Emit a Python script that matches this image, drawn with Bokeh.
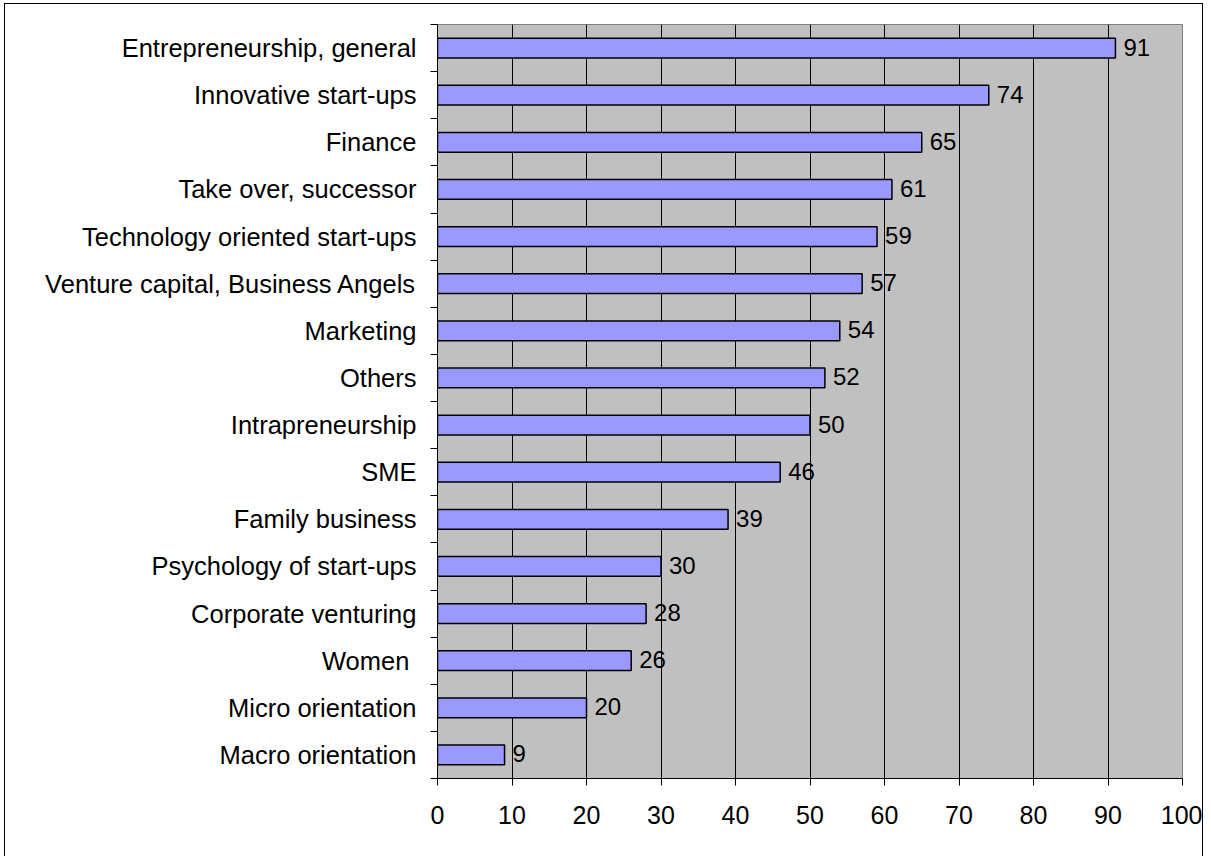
from bokeh.plotting import figure
from bokeh.models import ColumnDataSource, FixedTicker, LinearAxis, Range1d
from bokeh.core.properties import value
from bokeh.embed import file_html
from bokeh.resources import INLINE

categories = [
    "Entrepreneurship, general",
    "Innovative start-ups",
    "Finance",
    "Take over, successor",
    "Technology oriented start-ups",
    "Venture capital, Business Angels",
    "Marketing",
    "Others",
    "Intrapreneurship",
    "SME",
    "Family business",
    "Psychology of start-ups",
    "Corporate venturing",
    "Women ",
    "Micro orientation",
    "Macro orientation",
]
values = [91, 74, 65, 61, 59, 57, 54, 52, 50, 46, 39, 30, 28, 26, 20, 9]
x_ticks = [0, 10, 20, 30, 40, 50, 60, 70, 80, 90, 100]

n = len(categories)
ypos = [n - i for i in range(n)]  # top category at the top
src = ColumnDataSource(dict(cat=categories, val=values, y=ypos,
                            lab=[str(v) for v in values]))

FONT = "Liberation Sans"
FS_CAT = "25.5px"
FS_TICK = "25px"
FS_VAL = "24px"

p = figure(width=1197, height=852, output_backend="svg", toolbar_location=None,
           x_range=Range1d(0, 100), y_range=Range1d(0.5, n + 0.5),
           min_border_left=432, min_border_right=20, min_border_top=20,
           min_border_bottom=78, frame_width=745, frame_height=754)
p.styles = {"margin-left": "4px", "margin-top": "3px",
            "border-left": "1px solid black", "border-top": "1px solid black",
            "border-right": "1px solid black"}
p.background_fill_color = "#C0C0C0"
p.border_fill_color = "white"
p.outline_line_color = "#808080"
p.outline_line_width = 1

p.hbar(y="y", right="val", left=0, height=0.42, source=src,
       fill_color="#9999FF", line_color="black", line_width=1.5)
p.text(x="val", y="y", text="lab", source=src, x_offset=8, y_offset=-1,
       text_baseline="middle", text_align="left",
       text_font=value(FONT), text_font_size=FS_VAL, text_color="black")

# x axis
p.xaxis.ticker = FixedTicker(ticks=x_ticks)
p.xaxis.axis_line_color = "black"
p.xaxis.major_tick_line_color = "black"
p.xaxis.major_tick_out = 7
p.xaxis.major_tick_in = 0
p.xaxis.minor_tick_line_color = None
p.xaxis.major_label_text_font = FONT
p.xaxis.major_label_text_font_size = FS_TICK
p.xaxis.major_label_text_color = "black"
p.xaxis.major_label_standoff = 20

# grid
p.xgrid.ticker = FixedTicker(ticks=x_ticks[1:-1])
p.xgrid.grid_line_color = "black"
p.xgrid.grid_line_width = 1
p.ygrid.grid_line_color = None

# y axis: tick marks at category boundaries (no labels)
bounds = [i + 0.5 for i in range(n + 1)]
p.yaxis.ticker = FixedTicker(ticks=bounds)
p.yaxis.major_label_overrides = {b: "" for b in bounds}
p.yaxis.major_label_standoff = 0
p.yaxis.axis_line_color = "black"
p.yaxis.major_tick_line_color = "black"
p.yaxis.major_tick_out = 7
p.yaxis.major_tick_in = 0
p.yaxis.minor_tick_line_color = None

# category labels axis
lab_axis = LinearAxis(ticker=FixedTicker(ticks=ypos),
                      major_label_overrides={y: c for y, c in zip(ypos, categories)})
lab_axis.axis_line_color = None
lab_axis.major_tick_line_color = None
lab_axis.minor_tick_line_color = None
lab_axis.major_tick_out = 0
lab_axis.major_tick_in = 0
lab_axis.major_label_standoff = 14
lab_axis.major_label_text_font = FONT
lab_axis.major_label_text_font_size = FS_CAT
lab_axis.major_label_text_color = "black"
p.add_layout(lab_axis, "left")

open("out.html", "w").write(file_html(p, INLINE))
